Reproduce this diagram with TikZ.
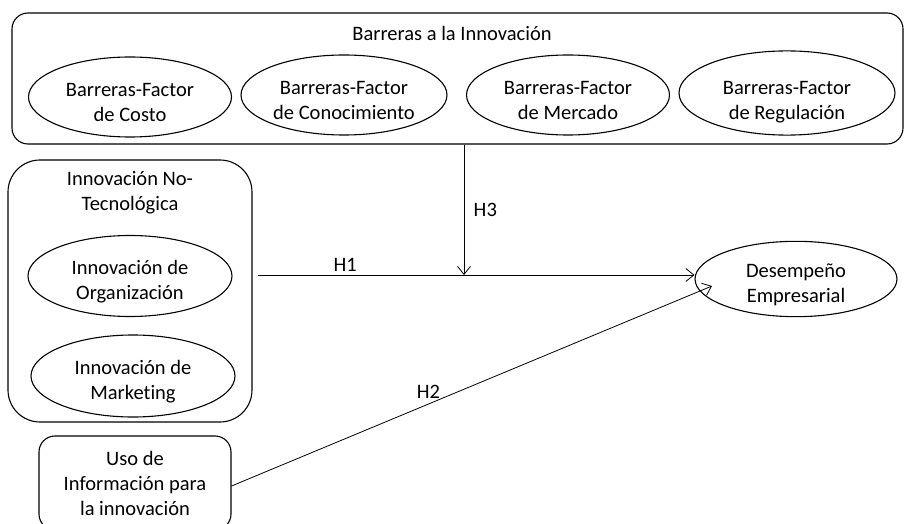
\documentclass[tikz,border=0pt]{standalone}
\usepackage{fontspec}
\setmainfont{Carlito}[Ligatures=NoCommon]
\usetikzlibrary{shapes.geometric,arrows.meta}

\begin{document}
\begin{tikzpicture}[x=1pt,y=-1pt,
  font=\fontsize{20.5}{25}\selectfont,
  barrera/.style={draw,ellipse,line width=1.1pt,inner sep=0pt,align=center,
                  minimum width=203pt,minimum height=80pt,
                  execute at begin node={\rule{0pt}{50pt}}},
  marco/.style={draw,line width=1.1pt,inner sep=0pt},
  flecha/.style={-{Straight Barb[length=8pt,width=13pt]},line width=0.8pt}]
\useasboundingbox (0,0) rectangle (906,524);
\clip (0,0) rectangle (906,524);

%---------------------------------------------------
\node[marco,rounded corners=16pt,minimum width=891pt,minimum height=131pt] (barr) at (457.5,78.5) {};
\node[] (tbarr) at (452,33) {Barreras a la Innovación};
\node[barrera] (costo) at (130,97) {Barreras-Factor\\de Costo};
\node[barrera,minimum width=206pt] (conoc) at (344,95) {Barreras-Factor\\de Conocimiento};
\node[barrera] (merc) at (568,95) {Barreras-Factor\\de Mercado};
\node[barrera,minimum width=216pt,
      execute at begin node={\rule{0pt}{56pt}}] (regul) at (787,93) {Barreras-Factor\\de Regulación};

%---------------------------------------------------
\node[marco,rounded corners=32pt,minimum width=244pt,minimum height=262pt] (notec) at (130,291) {};
\node[align=center] (tnotec) at (130,193) {Innovación No-\\Tecnológica};
\node[barrera,minimum width=204pt,minimum height=81pt] (organ) at (130,276) {Innovación de\\Organización};
\node[barrera,minimum width=204pt,minimum height=82pt] (mark) at (133,376) {Innovación de\\Marketing};

%---------------------------------------------------
\node[marco,rounded corners=16pt,minimum width=192pt,minimum height=94pt,align=center] (uso) at (135,483) {Uso de\\Información para\\la innovación};

\node[barrera,minimum width=202pt,minimum height=72pt,
      execute at begin node={\rule{0pt}{37pt}}] (desem) at (796,279) {Desempeño\\Empresarial};

%------------------------------------------------
\coordinate (h1s) at (258,275);
\coordinate (h3e) at (464,275);
\coordinate (h2e) at (712,286);
\draw[flecha] (h1s) -- (h1s -| desem.west) node[pos=0.2,above] {H1};
\draw[flecha] (h3e |- barr.south) -- (h3e) node[pos=0.5,right,xshift=6pt] {H3};
\draw[flecha] ([yshift=-3pt]uso.east) -- (h2e) node[pos=0.41,above,yshift=2pt] {H2};
\end{tikzpicture}
\end{document}
